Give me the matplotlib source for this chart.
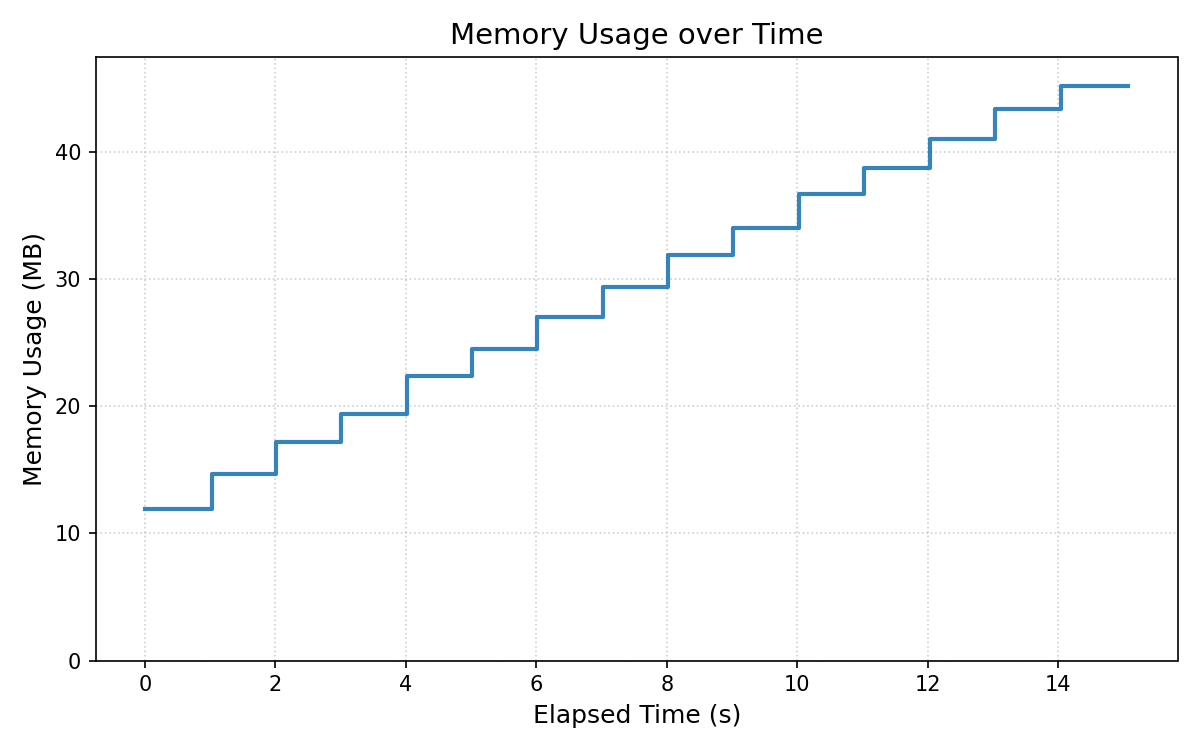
import matplotlib
matplotlib.use("Agg")
import matplotlib.pyplot as plt

elapsed = [0.0, 1.02, 2.01, 3.01, 4.01, 5.02, 6.01, 7.03, 8.02, 9.02,
           10.03, 11.03, 12.04, 13.04, 14.05, 15.08]
memory_mb = [11.9, 14.7, 17.2, 19.4, 22.4, 24.5, 27.0, 29.4, 31.9, 34.0,
             36.7, 38.75, 41.0, 43.35, 45.2, 45.2]

fig, ax = plt.subplots(figsize=(8, 5), dpi=150)
ax.step(elapsed, memory_mb, where="post", color="tab:blue", alpha=0.9, linewidth=2)

ax.set_title("Memory Usage over Time", fontsize=14)
ax.set_xlabel("Elapsed Time (s)", fontsize=12)
ax.set_ylabel("Memory Usage (MB)", fontsize=12)
ax.set_ylim(0, max(memory_mb) * 1.05)
ax.grid(True, linestyle=":", alpha=0.6)

plt.tight_layout()
plt.savefig("out.png")
